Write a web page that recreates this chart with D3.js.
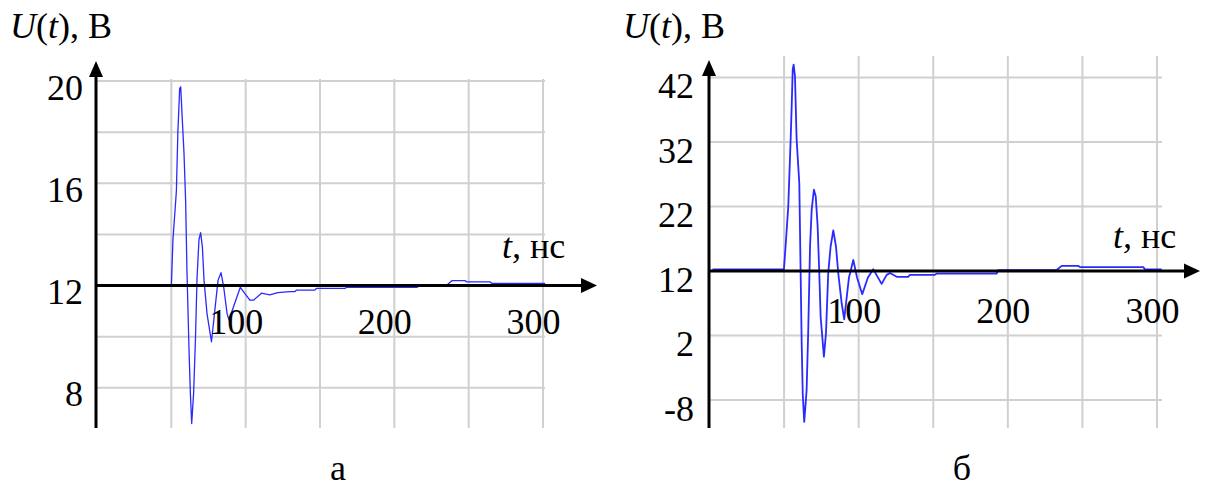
<!DOCTYPE html>
<html><head><meta charset="utf-8">
<script src="https://cdn.jsdelivr.net/npm/d3@7"></script>
<style>
body{margin:0;background:#fff}
svg text{font-family:'Liberation Serif','Times New Roman',Times,'Nimbus Roman','Nimbus Roman No9 L',FreeSerif,'Noto Serif','DejaVu Serif','Noto Serif CJK SC','Noto Serif CJK JP',serif !important;fill:#000}
</style>
</head><body>
<svg id="c" width="1207" height="488"></svg>
<script>
// ---- data ----
const tA = [50,51.1,53.4,54.4,55.6,56.3,57.8,58.5,59.6,60.5,61.9,62.8,63.7,65.0,66.2,67.3,68.6,69.7,70.9,72.0,
  74.0,77.0,79.2,81.4,83.4,85.2,87.5,88.8,92.0,96.4,102.8,105.4,110.6,116.2,121.6,129.7,133,134.2,146.5,147.7,
  166.8,168,215,217,234.6,238.7,247.6,248.8,264.5,265.6,301.5];
const uA = [12,13.8,15.7,18.0,19.7,19.77,18.0,17.2,15.35,12.6,9.47,7.8,6.6,7.8,9.86,12.3,13.8,14.07,13.5,12.2,
  10.9,9.8,11.0,12.2,12.5,11.95,10.9,10.65,11.2,11.93,11.43,11.43,11.7,11.63,11.72,11.76,11.76,11.82,11.82,11.89,
  11.89,11.93,11.93,11.98,11.98,12.19,12.19,12.14,12.14,12.08,12.08];

const tB = [2,49.9,51.3,52.8,54.4,55.1,55.8,56.4,57.3,58.4,60.2,61.1,61.8,62.5,63.5,65.1,66.2,67.4,68.5,70.0,
  71.2,72.5,73.6,74.5,76.7,78.1,79.6,81.2,83.0,84.8,86.3,88.6,90.3,93.5,96.4,98.9,102.4,106.2,109.8,115.4,
  118.8,121.0,125.5,133.2,134.4,151.1,152.3,192.5,193.6,232.7,236.1,247.2,248.4,290.8,291.9,303.1];
const uB = [12.26,12.26,16.8,22,32.4,37.6,43.3,44.0,42.2,32.4,25.6,11.6,0.75,-7,-11.4,-6.5,2.8,15.8,21.5,24.6,
  23.6,18.9,11.7,4.9,-1.3,2.4,11.7,15.8,18.3,15.8,11.7,7.0,4.5,11,13.7,11,8.4,11,12.26,10.0,
  11.4,11.7,11.1,11.1,11.4,11.4,11.6,11.6,12.15,12.15,12.8,12.8,12.6,12.6,12.26,12.26];

const xGridVals = [50,100,150,200,250,300];
const xTickVals = [100,200,300];
const yGridA = [20,18,16,14,10,8];
const yTickA = [20,16,12,8];
const yGridB = [42,32,22,2,-8];
const yTickB = [42,32,22,12,2,-8];
const captions = ["а","б"];

const FONT = "'Liberation Serif','Times New Roman',Times,'Nimbus Roman',FreeSerif,'Noto Serif','DejaVu Serif',serif";
const svg = d3.select("#c");

function panel(c){
  const x = d3.scaleLinear().domain([0,300]).range(c.xr);
  const y = d3.scaleLinear().domain([12, c.yTop]).range(c.yr);
  const g = svg.append("g").attr("font-family",FONT);
  const ax = c.axisX, ay = y(12);

  // grid
  g.selectAll("line.hg").data(c.yGrid).join("line").attr("class","hg")
    .attr("x1",ax).attr("x2",c.gridRight).attr("y1",d=>y(d)).attr("y2",d=>y(d))
    .attr("stroke","#d0d0d0").attr("stroke-width",2);
  g.selectAll("line.vg").data(xGridVals).join("line").attr("class","vg")
    .attr("x1",d=>x(d)).attr("x2",d=>x(d)).attr("y1",c.gridTop).attr("y2",c.bottom)
    .attr("stroke","#d0d0d0").attr("stroke-width",2);

  // signal
  g.append("path").datum(d3.zip(c.t,c.u))
    .attr("d", d3.line().x(d=>x(d[0])).y(d=>y(d[1])))
    .attr("fill","none").attr("stroke","#2a2aff").attr("stroke-width",c.lw)
    .attr("stroke-linejoin","round");

  // axes lines + arrows
  g.append("line").attr("x1",ax).attr("x2",ax).attr("y1",c.bottom).attr("y2",c.yTip+10)
    .attr("stroke","#000").attr("stroke-width",3);
  g.append("path").attr("d",`M${ax},${c.yTip}L${ax-7},${c.yTip+16}L${ax+7},${c.yTip+16}Z`).attr("fill","#000");
  g.append("line").attr("x1",ax).attr("x2",c.xTip-10).attr("y1",ay).attr("y2",ay)
    .attr("stroke","#000").attr("stroke-width",3);
  g.append("path").attr("d",`M${c.xTip},${ay}L${c.xTip-16},${ay-7.5}L${c.xTip-16},${ay+7.5}Z`).attr("fill","#000");

  // y tick labels
  const ya = g.append("g").attr("transform",`translate(${ax},0)`)
    .call(d3.axisLeft(y).tickValues(c.yTicks).tickSize(0).tickPadding(c.yPad).tickFormat(d=>String(d)));
  ya.attr("font-family",FONT).attr("font-size",36);
  ya.select(".domain").remove();
  ya.selectAll("text").attr("dy",c.yDy).attr("fill","#000");

  // x tick labels
  const xa = g.append("g").attr("transform",`translate(0,${ay})`)
    .call(d3.axisBottom(x).tickValues(xTickVals).tickSize(0).tickFormat(d=>String(d)));
  xa.attr("font-family",FONT).attr("font-size",36);
  xa.select(".domain").remove();
  xa.selectAll("text").attr("y",0).attr("dy",c.xDy).attr("dx",c.xDx).attr("fill","#000");

  // axis titles
  const yl = g.append("text").attr("x",c.yLabX).attr("y",38).attr("font-size",36);
  yl.append("tspan").attr("font-style","italic").text("U");
  yl.append("tspan").text("(");
  yl.append("tspan").attr("font-style","italic").text("t");
  yl.append("tspan").text("), В");

  const xl = g.append("text").attr("x",c.xLabX).attr("y",c.xLabY).attr("font-size",36);
  xl.append("tspan").attr("font-style","italic").text("t,");
  xl.append("tspan").text(" нс");

  g.append("text").attr("x",c.capX).attr("y",480).attr("font-size",36)
    .attr("text-anchor","middle").text(c.cap);
}

panel({t:tA,u:uA,xr:[97,543],yTop:20,yr:[285.5,81],axisX:96,gridRight:545,gridTop:79,bottom:428,
  yTip:61,xTip:597,yGrid:yGridA,yTicks:yTickA,yPad:13,yDy:"18px",xDy:"48px",xDx:"-10px",lw:1.3,
  yLabX:10,xLabX:502,xLabY:258,capX:338,cap:captions[0]});
panel({t:tB,u:uB,xr:[709.5,1157],yTop:42,yr:[271,77.5],axisX:709,gridRight:1162,gridTop:56,bottom:428,
  yTip:60,xTip:1200,yGrid:yGridB,yTicks:yTickB,yPad:15,yDy:"20px",xDy:"52px",xDx:"-5px",lw:1.8,
  yLabX:623,xLabX:1113,xLabY:248,capX:962,cap:captions[1]});
</script>
</body></html>
